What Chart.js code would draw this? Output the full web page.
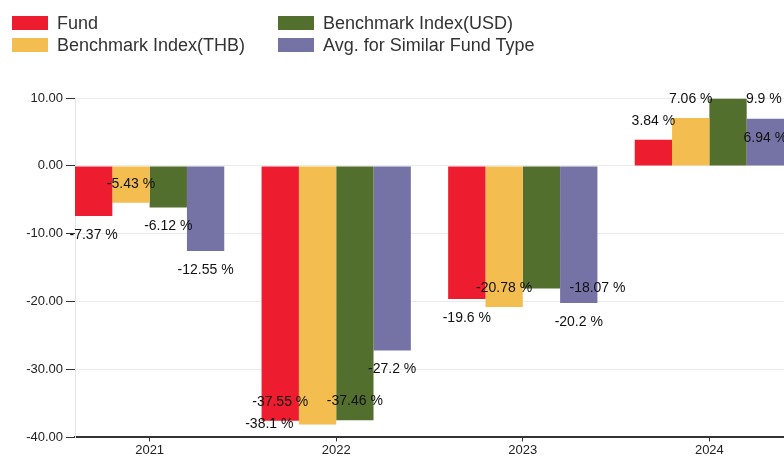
<!DOCTYPE html>
<html>
<head>
<meta charset="utf-8">
<script src="https://cdn.jsdelivr.net/npm/chart.js@4.4.1/dist/chart.umd.min.js"></script>
<style>
  body { margin: 0; background: #fff; font-family: "Liberation Sans", Arial, sans-serif; }
  #wrap { position: relative; width: 784px; height: 459px; overflow: hidden; }
  #legend {
    position: absolute; left: 12px; top: 12px;
    display: grid; grid-template-columns: 266px auto; grid-template-rows: 22px 22px;
    grid-auto-flow: column;
  }
  .item { display: flex; align-items: center; font-size: 18px; color: #333; white-space: nowrap; }
  .box { width: 36px; height: 14px; margin-right: 9px; }
</style>
</head>
<body>
<div id="wrap">
  <canvas id="chart" width="784" height="459"></canvas>
  <div id="legend"></div>
</div>
<script>
const years = ['2021', '2022', '2023', '2024'];
const seriesNames = ['Fund', 'Benchmark Index(THB)', 'Benchmark Index(USD)', 'Avg. for Similar Fund Type'];
const fund = [-7.37, -37.55, -19.6, 3.84];
const benchTHB = [-5.43, -38.1, -20.78, 7.06];
const benchUSD = [-6.12, -37.46, -18.07, 9.9];
const avgSimilar = [-12.55, -27.2, -20.2, 6.94];
const yMin = -40, yMax = 10, yStep = 10;
const colors = ['#ed1c2e', '#f3be4f', '#536f2e', '#7573a6'];

const series = [fund, benchTHB, benchUSD, avgSimilar];

// value labels, moved around a bit when they bump into each other
const barLabels = {
  id: 'barLabels',
  afterDatasetsDraw(chart) {
    const { ctx, chartArea } = chart;
    ctx.save();
    ctx.font = '14px "Liberation Sans", Arial, sans-serif';
    ctx.fillStyle = '#111';
    ctx.textAlign = 'center';
    ctx.textBaseline = 'middle';
    const placed = [];
    const gap = 19, minDy = 21;
    const hits = (x, y, w) => placed.some(p => Math.abs(p.x - x) < (p.w + w) / 2 && Math.abs(p.y - y) < minDy);
    const fits = (y) => y >= chartArea.top - 6 && y <= chartArea.bottom;
    years.forEach((_, j) => {
      chart.data.datasets.forEach((ds, i) => {
        const bar = chart.getDatasetMeta(i).data[j];
        const v = ds.data[j].y;
        const text = v + ' %';
        const w = ctx.measureText(text).width;
        const dir = v < 0 ? 1 : -1;
        const tries = [
          [bar.x, bar.y + dir * gap],   // past the end
          [bar.x, bar.y - dir * gap],   // inside the bar
          [bar.x - w, bar.y],           // at the end, pushed left
          [bar.x + w, bar.y]            // at the end, pushed right
        ];
        const pos = tries.find(([x, y]) => fits(y) && !hits(x, y, w)) || tries[0];
        placed.push({ x: pos[0], y: pos[1], w });
        ctx.fillText(text, pos[0], pos[1]);
      });
    });
    ctx.restore();
  }
};

const chart = new Chart('chart', {
  type: 'bar',
  data: {
    datasets: series.map((vals, i) => ({
      label: seriesNames[i],
      data: vals.map((v, j) => ({ x: j, y: v })),
      backgroundColor: colors[i],
      borderWidth: 0,
      categoryPercentage: 0.8,
      barPercentage: 1
    }))
  },
  options: {
    responsive: false,
    animation: false,
    layout: { padding: { top: 98, left: 0, right: 0, bottom: 0 } },
    plugins: { legend: { display: false }, tooltip: { enabled: false } },
    scales: {
      x: {
        type: 'linear',
        offset: false,
        min: -0.4,
        max: years.length - 0.6,
        grid: { offset: false, drawOnChartArea: false, drawTicks: true, tickLength: 4, color: '#333' },
        border: { color: '#333', width: 2 },
        ticks: {
          stepSize: 1,
          includeBounds: false,
          padding: 1,
          color: '#222',
          font: { family: '"Liberation Sans", Arial, sans-serif', size: 13 },
          callback: (v) => years[v] ?? ''
        }
      },
      y: {
        min: yMin,
        max: yMax,
        afterFit: (s) => { s.width = 75; },
        grid: { color: '#ebebeb', tickColor: '#333', tickLength: 9 },
        border: { color: '#e4e4e4' },
        ticks: {
          stepSize: yStep,
          padding: 3,
          color: '#222',
          font: { family: '"Liberation Sans", Arial, sans-serif', size: 13 },
          callback: (v) => v.toFixed(2)
        }
      }
    }
  },
  plugins: [barLabels]
});

// html legend, two columns like the original
const legend = document.getElementById('legend');
chart.data.datasets.forEach(ds => {
  const item = document.createElement('div');
  item.className = 'item';
  const box = document.createElement('span');
  box.className = 'box';
  box.style.background = ds.backgroundColor;
  item.appendChild(box);
  item.appendChild(document.createTextNode(ds.label));
  legend.appendChild(item);
});
</script>
</body>
</html>
